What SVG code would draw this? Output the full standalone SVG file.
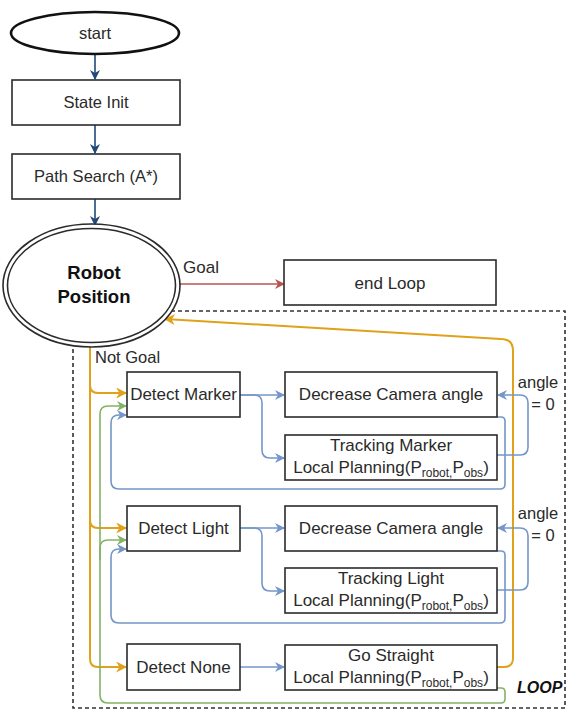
<svg xmlns="http://www.w3.org/2000/svg" width="567" height="711" viewBox="0 0 567 711">
  <defs>
    <style>
      .box { fill: #ffffff; stroke: #2b2b2b; stroke-width: 1.6; }
      .lbl { font-family: "Liberation Sans", Arial, sans-serif; font-size: 17px; fill: #2a2a2a; }
      .sub { font-size: 12px; }
      .c { text-anchor: middle; }
      .edge { fill: none; stroke-width: 1.6; }
      .navy { stroke: #1f4a78; }
      .red { stroke: #b85450; }
      .orange { stroke: #e0a11b; stroke-width: 2; }
      .green { stroke: #82b366; }
      .blue { stroke: #7496c8; }
    </style>
    <marker id="arrNavy" viewBox="0 0 10 10" refX="9" refY="5" markerWidth="10" markerHeight="10" markerUnits="userSpaceOnUse" orient="auto">
      <path d="M0,0 L10,5 L0,10 L3,5 z" fill="#1f4a78"/>
    </marker>
    <marker id="arrRed" viewBox="0 0 10 10" refX="9" refY="5" markerWidth="10" markerHeight="10" markerUnits="userSpaceOnUse" orient="auto">
      <path d="M0,0 L10,5 L0,10 L3,5 z" fill="#b85450"/>
    </marker>
    <marker id="arrOrange" viewBox="0 0 10 10" refX="9" refY="5" markerWidth="11" markerHeight="11" markerUnits="userSpaceOnUse" orient="auto">
      <path d="M0,0 L10,5 L0,10 L3,5 z" fill="#e0a11b"/>
    </marker>
    <marker id="arrGreen" viewBox="0 0 10 10" refX="9" refY="5" markerWidth="10" markerHeight="10" markerUnits="userSpaceOnUse" orient="auto">
      <path d="M0,0 L10,5 L0,10 L3,5 z" fill="#82b366"/>
    </marker>
    <marker id="arrBlue" viewBox="0 0 10 10" refX="9" refY="5" markerWidth="10" markerHeight="10" markerUnits="userSpaceOnUse" orient="auto">
      <path d="M0,0 L10,5 L0,10 L3,5 z" fill="#7496c8"/>
    </marker>
  </defs>

  <rect width="567" height="711" fill="#ffffff"/>

  <!-- loop frame -->
  <g id="loop-frame">
    <rect x="73" y="311" width="492" height="397" fill="none" stroke="#333333" stroke-width="1.6" stroke-dasharray="4 3"/>
    <text class="lbl" x="517" y="693" style="font-weight:bold;font-style:italic;font-size:16px;fill:#111">LOOP</text>
  </g>

  <!-- connectors -->
  <g id="connectors">
    <!-- main sequence -->
    <path class="edge navy" d="M95,55 V79" marker-end="url(#arrNavy)"/>
    <path class="edge navy" d="M95,125 V153" marker-end="url(#arrNavy)"/>
    <path class="edge navy" d="M95,199 V225" marker-end="url(#arrNavy)"/>
    <path class="edge red" d="M180,284 H284" marker-end="url(#arrRed)"/>

    <!-- not goal branches -->
    <path class="edge orange" d="M90,347 V385 Q90,393 98,393 H126" marker-end="url(#arrOrange)"/>
    <path class="edge orange" d="M90,347 V520 Q90,528 98,528 H126" marker-end="url(#arrOrange)"/>
    <path class="edge orange" d="M90,347 V659 Q90,667 98,667 H126" marker-end="url(#arrOrange)"/>

    <!-- return to robot position -->
    <path class="edge orange" d="M497,667 H504 Q513,667 513,658 V351 Q513,339 501,339 L165,319" marker-end="url(#arrOrange)"/>

    <!-- go straight back to detectors -->
    <path class="edge green" d="M497,688 H501 Q505,688 505,692 V699 Q505,703 501,703 H108 Q100,703 100,695 V548 Q100,540 108,540 H126" marker-end="url(#arrGreen)"/>
    <path class="edge green" d="M100,560 V414 Q100,406 108,406 H126" marker-end="url(#arrGreen)"/>

    <!-- marker branch -->
    <path class="edge blue" d="M240,395 H284" marker-end="url(#arrBlue)"/>
    <path class="edge blue" d="M240,395 H254 Q262,395 262,403 V450 Q262,458 270,458 H284" marker-end="url(#arrBlue)"/>
    <path class="edge blue" d="M497,455 H520 Q528,455 528,447 V403 Q528,395 520,395 H498" marker-end="url(#arrBlue)"/>
    <path class="edge blue" d="M497,417 H501 Q505,417 505,421 V484 Q505,489 500,489 H119 Q111,489 111,481 V423 Q111,415 119,415 H126" marker-end="url(#arrBlue)"/>

    <!-- light branch -->
    <path class="edge blue" d="M240,528 H284" marker-end="url(#arrBlue)"/>
    <path class="edge blue" d="M240,528 H254 Q262,528 262,536 V583 Q262,591 270,591 H284" marker-end="url(#arrBlue)"/>
    <path class="edge blue" d="M497,590 H520 Q528,590 528,582 V536 Q528,528 520,528 H498" marker-end="url(#arrBlue)"/>
    <path class="edge blue" d="M497,551 H501 Q505,551 505,555 V618 Q505,623 500,623 H119 Q111,623 111,615 V557 Q111,549 119,549 H126" marker-end="url(#arrBlue)"/>

    <!-- none branch -->
    <path class="edge blue" d="M240,667 H284" marker-end="url(#arrBlue)"/>

    <!-- edge labels -->
    <text class="lbl" x="183" y="273">Goal</text>
    <text class="lbl" x="95" y="363" style="font-size:16.5px">Not Goal</text>
    <text class="lbl c" x="538" y="388" style="font-size:16.5px">angle</text>
    <text class="lbl c" x="543" y="410" style="font-size:16.5px">= 0</text>
    <text class="lbl c" x="538" y="519" style="font-size:16.5px">angle</text>
    <text class="lbl c" x="543" y="541" style="font-size:16.5px">= 0</text>
  </g>

  <!-- nodes -->
  <g id="start">
    <ellipse cx="95" cy="33" rx="84" ry="21" fill="#ffffff" stroke="#111111" stroke-width="2.6"/>
    <text class="lbl c" x="95" y="39" style="font-size:16.5px">start</text>
  </g>

  <g id="state-init">
    <rect class="box" x="12" y="80" width="168" height="45"/>
    <text class="lbl c" x="96" y="108" style="font-size:16.5px">State Init</text>
  </g>

  <g id="path-search">
    <rect class="box" x="12" y="154" width="168" height="45"/>
    <text class="lbl c" x="96" y="182" style="font-size:16.5px">Path Search (A*)</text>
  </g>

  <g id="robot-position">
    <ellipse cx="91.5" cy="285.5" rx="88.5" ry="61.5" fill="#ffffff" stroke="#2b2b2b" stroke-width="1.6"/>
    <ellipse cx="91.5" cy="285.5" rx="84" ry="57" fill="none" stroke="#2b2b2b" stroke-width="1.6"/>
    <text class="lbl c" x="94" y="279" style="font-weight:bold;font-size:18.5px;fill:#111">Robot</text>
    <text class="lbl c" x="94" y="303" style="font-weight:bold;font-size:18.5px;fill:#111">Position</text>
  </g>

  <g id="end-loop">
    <rect class="box" x="284" y="260" width="212" height="45"/>
    <text class="lbl c" x="390" y="289">end Loop</text>
  </g>

  <g id="detect-marker">
    <rect class="box" x="127" y="372" width="113" height="45"/>
    <text class="lbl c" x="183.5" y="400">Detect Marker</text>
  </g>

  <g id="decrease-camera-marker">
    <rect class="box" x="285" y="372" width="212" height="45"/>
    <text class="lbl c" x="391" y="400">Decrease Camera angle</text>
  </g>

  <g id="tracking-marker">
    <rect class="box" x="285" y="435" width="212" height="45"/>
    <text class="lbl c" x="391" y="451">Tracking Marker</text>
    <text class="lbl c" x="391" y="473">Local Planning(P<tspan class="sub" dy="4">robot,</tspan><tspan dy="-4">P</tspan><tspan class="sub" dy="4">obs</tspan><tspan dy="-4">)</tspan></text>
  </g>

  <g id="detect-light">
    <rect class="box" x="127" y="506" width="113" height="45"/>
    <text class="lbl c" x="183.5" y="534">Detect Light</text>
  </g>

  <g id="decrease-camera-light">
    <rect class="box" x="285" y="506" width="212" height="45"/>
    <text class="lbl c" x="391" y="534">Decrease Camera angle</text>
  </g>

  <g id="tracking-light">
    <rect class="box" x="285" y="568" width="212" height="45"/>
    <text class="lbl c" x="391" y="584">Tracking Light</text>
    <text class="lbl c" x="391" y="606">Local Planning(P<tspan class="sub" dy="4">robot,</tspan><tspan dy="-4">P</tspan><tspan class="sub" dy="4">obs</tspan><tspan dy="-4">)</tspan></text>
  </g>

  <g id="detect-none">
    <rect class="box" x="127" y="644" width="113" height="46"/>
    <text class="lbl c" x="183.5" y="673">Detect None</text>
  </g>

  <g id="go-straight">
    <rect class="box" x="285" y="645" width="212" height="45"/>
    <text class="lbl c" x="391" y="661">Go Straight</text>
    <text class="lbl c" x="391" y="683">Local Planning(P<tspan class="sub" dy="4">robot,</tspan><tspan dy="-4">P</tspan><tspan class="sub" dy="4">obs</tspan><tspan dy="-4">)</tspan></text>
  </g>
</svg>
